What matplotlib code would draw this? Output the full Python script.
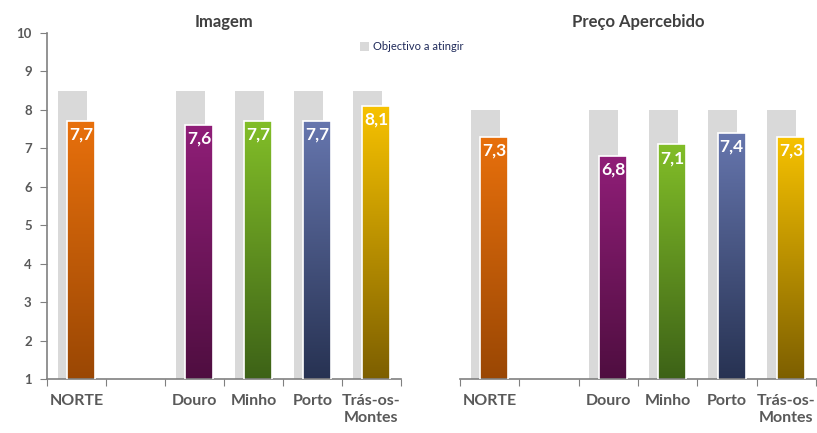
import numpy as np
import matplotlib.pyplot as plt
from matplotlib.colors import LinearSegmentedColormap
from matplotlib.patches import Rectangle

plt.rcParams['font.family'] = ['Lato', 'DejaVu Sans']

categories = ['NORTE', '', 'Douro', 'Minho', 'Porto', 'Trás-os-\nMontes']
imagem = [7.7, np.nan, 7.6, 7.7, 7.7, 8.1]
imagem_labels = ['7,7', '', '7,6', '7,7', '7,7', '8,1']
objectivo_imagem = [8.5, np.nan, 8.5, 8.5, 8.5, 8.5]
preco = [7.3, np.nan, 6.8, 7.1, 7.4, 7.3]
preco_labels = ['7,3', '', '6,8', '7,1', '7,4', '7,3']
objectivo_preco = [8.0, np.nan, 8.0, 8.0, 8.0, 8.0]

# top / bottom colour of each gradient bar
grad_colors = [('#E8700C', '#9A4704'), (None, None), ('#901E78', '#4F0E40'),
               ('#82BE28', '#3D6217'), ('#6676AE', '#273252'), ('#F7C200', '#7D5F00')]

label_col = '#595959'

fig = plt.figure(figsize=(8.17, 4.33), dpi=100)
ax1 = fig.add_axes([0.0575, 0.1247, 0.4333, 0.7991])
ax2 = fig.add_axes([0.563, 0.1247, 0.4358, 0.7991])


def draw_panel(ax, values, labels, target, title, show_y):
    x = np.arange(len(categories))
    ax.bar(x - 0.075, target, width=0.49, bottom=0, color='#D9D9D9', zorder=1)
    bars = ax.bar(x + 0.08, values, width=0.47, bottom=0, facecolor='none',
                  edgecolor='white', linewidth=1.2, zorder=3)
    for rect, (top, bot), lab in zip(bars.patches, grad_colors, labels):
        h = rect.get_height()
        if np.isnan(h):
            continue
        cmap = LinearSegmentedColormap.from_list('g', [bot, top])
        grad = np.linspace(0, 1, 256).reshape(-1, 1)
        x0 = rect.get_x()
        w = rect.get_width()
        im = ax.imshow(grad, cmap=cmap, origin='lower', aspect='auto',
                       extent=(x0, x0 + w, 1, h), zorder=2)
        clip = Rectangle((x0, 0), w, h, transform=ax.transData)
        im.set_clip_path(clip)
        ax.annotate(lab, (x0 + w / 2, h), xytext=(0, -4), textcoords='offset points',
                    ha='center', va='top', color='white', fontsize=12.5,
                    fontweight='bold', zorder=4)
    ax.set_xlim(-0.5, len(categories) - 0.5)
    ax.set_ylim(1, 10)
    ax.set_title(title, fontsize=12, fontweight='bold', color='#404040', pad=4)

    ax.set_xticks(np.arange(len(categories) + 1) - 0.5)
    ax.set_xticklabels([])
    ax.set_xticks(x, minor=True)
    ax.set_xticklabels(categories, minor=True, fontsize=11.5, fontweight='bold',
                       color=label_col, va='top', linespacing=1.25)
    ax.tick_params(axis='x', which='major', length=5, color='#808080', direction='out')
    ax.tick_params(axis='x', which='minor', length=0, pad=11)
    for s in ['top', 'right']:
        ax.spines[s].set_visible(False)
    ax.spines['bottom'].set_color('#808080')
    ax.spines['bottom'].set_linewidth(1.2)
    if show_y:
        ax.set_yticks(range(1, 11))
        ax.tick_params(axis='y', length=5, color='#808080', labelsize=9.5,
                       labelcolor=label_col, pad=6)
        for t in ax.get_yticklabels():
            t.set_fontweight('bold')
        ax.spines['left'].set_color('#808080')
        ax.spines['left'].set_linewidth(1.2)
    else:
        ax.spines['left'].set_visible(False)
        ax.set_yticks([])


draw_panel(ax1, imagem, imagem_labels, objectivo_imagem, 'Imagem', True)
draw_panel(ax2, preco, preco_labels, objectivo_preco, 'Preço Apercebido', False)

# legend for the target bars
fig.patches.append(Rectangle((0.441, 0.882), 0.011, 0.02, transform=fig.transFigure,
                             facecolor='#D9D9D9', edgecolor='none'))
fig.text(0.456, 0.892, 'Objectivo a atingir', fontsize=8, color='#1F2A5A', va='center')

fig.savefig('out.png', dpi=100)
